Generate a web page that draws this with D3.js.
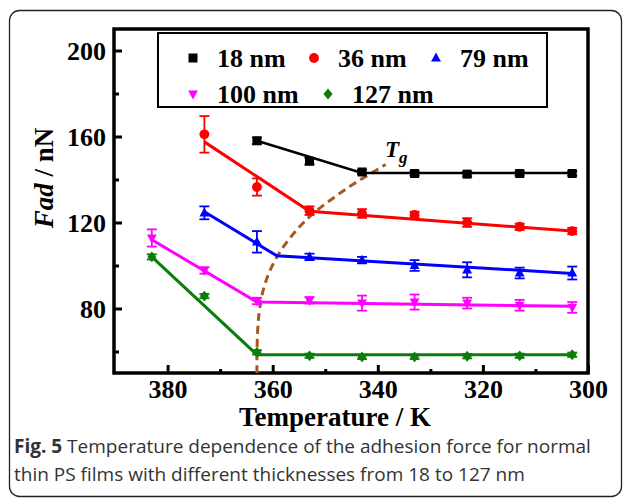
<!DOCTYPE html>
<html>
<head>
<meta charset="utf-8">
<script src="https://cdn.jsdelivr.net/npm/d3@7"></script>
<style>
  body { margin: 0; background: #fff; }
  svg { display: block; }
  .tick text { font-family: "Liberation Serif", serif; font-weight: bold; }
</style>
</head>
<body>
<div id="chart"></div>
<script>
// temperatures (K) measured
const temps = [383, 373, 363, 353, 343, 333, 323, 313, 303];

// adhesion force (nN) for each thickness, null = not measured
const f18  = [null, null, 158, 148.5, 143.5, 142.8, 142.5, 142.8, 142.8];
const f36  = [null, 161, 136.5, 125.5, 124.2, 123.5, 120, 118, 116];
const f79  = [null, 124.5, 111, 104, 102.5, 100, 98, 96.5, 96.5];
const f100 = [112.8, 97.7, 83.5, 83.8, 82.5, 83, 82.5, 81.5, 80.5];
const f127 = [104, 85.8, 59.6, 58, 57.5, 57.5, 57.8, 58, 58.5];

// error bars (nN)
const e18  = [null, null, 1.5, 1.5, 1, 1, 1, 1, 1];
const e36  = [null, 8.5, 4, 2, 2, 1.5, 2, 1.5, 1.5];
const e79  = [null, 3, 5, 1.5, 1.5, 2.5, 3.5, 2.5, 3];
const e100 = [4, 1.5, 1.5, 1.5, 3.5, 3.5, 2.5, 2.5, 2.5];
const e127 = [1.2, 1, 1, 1, 1, 1, 1, 1, 1];

// two-segment fit lines [T, F]
const fit18  = [[363, 158], [343, 143], [303, 143]];
const fit36  = [[373, 157.5], [353, 125.2], [303, 116]];
const fit79  = [[373, 125], [359.2, 104.5], [303, 96.3]];
const fit100 = [[383, 112], [363, 83], [303, 81]];
const fit127 = [[383, 104], [363, 58.5], [303, 58.5]];

// Tg boundary
const tgCurve = [[363, 50], [363, 64], [362.7, 78], [361.8, 90], [360.2, 100], [358, 109],
  [355.5, 116.5], [352.8, 123.5], [349, 130.5], [345, 137.5], [341.5, 142.5], [338.5, 147]];

const labels = ["18 nm", "36 nm", "79 nm", "100 nm", "127 nm"];
const colors = ["#000000", "#ff0000", "#0000ff", "#ff00ff", "#0a7d0a"];
const symbols = ["square", "circle", "triUp", "triDown", "diamond"];

const xTicks = [380, 360, 340, 320, 300];
const xMinor = [370, 350, 330, 310];
const yTicks = [80, 120, 160, 200];
const yMinor = [60, 100, 140, 180];

const width = 629, height = 501;
const svg = d3.select("#chart").append("svg")
  .attr("width", width)
  .attr("height", height);

// outer panel border
svg.append("rect")
  .attr("x", 9.5).attr("y", 10.5)
  .attr("width", 612).attr("height", 486)
  .attr("rx", 10)
  .attr("fill", "none")
  .attr("stroke", "#222")
  .attr("stroke-width", 1.3);

const plot = { left: 114, right: 588, top: 29, bottom: 373 };
const x = d3.scaleLinear().domain([390.2, 300]).range([plot.left, plot.right]);
const y = d3.scaleLinear().domain([50, 210]).range([plot.bottom, plot.top]);

const serif = "Liberation Serif";

// axes with inward ticks
const gx = svg.append("g").attr("transform", `translate(0,${plot.bottom})`);
gx.call(d3.axisBottom(x).tickValues(xTicks).tickSize(-8).tickPadding(7).tickFormat(d3.format("d")));
const gxm = svg.append("g").attr("transform", `translate(0,${plot.bottom})`);
gxm.call(d3.axisBottom(x).tickValues(xMinor).tickSize(-4).tickFormat(""));

const gy = svg.append("g").attr("transform", `translate(${plot.left},0)`);
gy.call(d3.axisLeft(y).tickValues(yTicks).tickSize(-8).tickPadding(8).tickFormat(d3.format("d")));
const gym = svg.append("g").attr("transform", `translate(${plot.left},0)`);
gym.call(d3.axisLeft(y).tickValues(yMinor).tickSize(-5).tickFormat(""));

[gx, gxm, gy, gym].forEach(g => {
  g.attr("font-family", serif).attr("font-size", 26).attr("font-weight", "bold");
  g.select(".domain").remove();
  g.selectAll(".tick line").attr("stroke", "#000").attr("stroke-width", 3);
  g.selectAll(".tick text").attr("fill", "#000");
});
gx.selectAll(".tick text").attr("dy", "0.71em");
gy.selectAll(".tick text").attr("dy", "0.34em");

// frame
svg.append("rect")
  .attr("x", plot.left).attr("y", plot.top)
  .attr("width", plot.right - plot.left)
  .attr("height", plot.bottom - plot.top)
  .attr("fill", "none")
  .attr("stroke", "#000")
  .attr("stroke-width", 3.5);

// axis titles
svg.append("text")
  .attr("x", (plot.left + plot.right) / 2 - 16)
  .attr("y", 426)
  .attr("text-anchor", "middle")
  .attr("font-family", serif)
  .attr("font-weight", "bold")
  .attr("font-size", 27)
  .text("Temperature / K");

const yTitle = svg.append("text")
  .attr("transform", "translate(53,178) rotate(-90)")
  .attr("text-anchor", "middle")
  .attr("font-family", serif)
  .attr("font-weight", "bold")
  .attr("font-size", 27);
yTitle.append("tspan").attr("font-style", "italic").text("Fad");
yTitle.append("tspan").text(" / nN");

// symbol generator
function symbolPath(kind, s) {
  const h = s / 2;
  if (kind === "square") return `M${-h},${-h}H${h}V${h}H${-h}Z`;
  if (kind === "circle") return d3.symbol(d3.symbolCircle, Math.PI * h * h * 1.2)();
  if (kind === "triUp") return `M0,${-h * 1.2}L${h * 1.1},${h * 0.8}L${-h * 1.1},${h * 0.8}Z`;
  if (kind === "triDown") return `M0,${h * 1.2}L${h * 1.1},${-h * 0.8}L${-h * 1.1},${-h * 0.8}Z`;
  return `M0,${-h * 1.2}L${h},0L0,${h * 1.2}L${-h},0Z`;
}

// Tg dashed boundary
svg.append("path")
  .datum(tgCurve)
  .attr("fill", "none")
  .attr("stroke", "#a8571f")
  .attr("stroke-width", 3)
  .attr("stroke-dasharray", "8,5")
  .attr("d", d3.line().x(d => x(d[0])).y(d => y(d[1])).curve(d3.curveBasis));

const allValues = [f18, f36, f79, f100, f127];
const allErrors = [e18, e36, e79, e100, e127];
const allFits = [fit18, fit36, fit79, fit100, fit127];
const lineW = [2.5, 3, 3, 3, 3];

allValues.forEach((vals, i) => {
  const color = colors[i];
  const pts = temps.map((t, j) => ({ t, v: vals[j], e: allErrors[i][j] })).filter(d => d.v != null);
  const g = svg.append("g");

  g.append("path")
    .datum(allFits[i])
    .attr("fill", "none")
    .attr("stroke", color)
    .attr("stroke-width", lineW[i])
    .attr("d", d3.line().x(d => x(d[0])).y(d => y(d[1])));

  // error bars
  const eb = g.selectAll(".eb").data(pts).join("g")
    .attr("stroke", color).attr("stroke-width", 1.8);
  eb.append("line")
    .attr("x1", d => x(d.t)).attr("x2", d => x(d.t))
    .attr("y1", d => y(d.v - d.e)).attr("y2", d => y(d.v + d.e));
  eb.append("line")
    .attr("x1", d => x(d.t) - 5).attr("x2", d => x(d.t) + 5)
    .attr("y1", d => y(d.v + d.e)).attr("y2", d => y(d.v + d.e));
  eb.append("line")
    .attr("x1", d => x(d.t) - 5).attr("x2", d => x(d.t) + 5)
    .attr("y1", d => y(d.v - d.e)).attr("y2", d => y(d.v - d.e));

  g.selectAll(".pt").data(pts).join("path")
    .attr("transform", d => `translate(${x(d.t)},${y(d.v)})`)
    .attr("d", symbolPath(symbols[i], 9))
    .attr("fill", color);
});

// Tg label
const tg = svg.append("text")
  .attr("x", 385).attr("y", 157)
  .attr("font-family", serif)
  .attr("font-weight", "bold")
  .attr("font-style", "italic")
  .attr("font-size", 23);
tg.append("tspan").text("T");
tg.append("tspan").attr("dy", 6).attr("font-size", 17).text("g");

// legend
svg.append("rect")
  .attr("x", 158).attr("y", 33)
  .attr("width", 389).attr("height", 74)
  .attr("fill", "#fff")
  .attr("stroke", "#000")
  .attr("stroke-width", 2);

const legendPos = [[193, 58], [314, 58], [436, 58], [193, 94], [328, 94]];
legendPos.forEach((p, i) => {
  svg.append("path")
    .attr("transform", `translate(${p[0]},${p[1]})`)
    .attr("d", symbolPath(symbols[i], 9))
    .attr("fill", colors[i]);
  svg.append("text")
    .attr("x", p[0] + 24).attr("y", p[1] + 9)
    .attr("font-family", serif)
    .attr("font-weight", "bold")
    .attr("font-size", 26)
    .text(labels[i]);
});

// caption
const sans = "Open Sans";
const cap1 = svg.append("text")
  .attr("x", 14).attr("y", 453)
  .attr("font-family", sans)
  .attr("font-size", 19)
  .attr("fill", "#333");
cap1.append("tspan").attr("font-weight", "bold").text("Fig. 5");
cap1.append("tspan").text(" Temperature dependence of the adhesion force for normal");
svg.append("text")
  .attr("x", 14).attr("y", 481)
  .attr("font-family", sans)
  .attr("font-size", 19)
  .attr("fill", "#333")
  .text("thin PS films with different thicknesses from 18 to 127 nm");
</script>
</body>
</html>
